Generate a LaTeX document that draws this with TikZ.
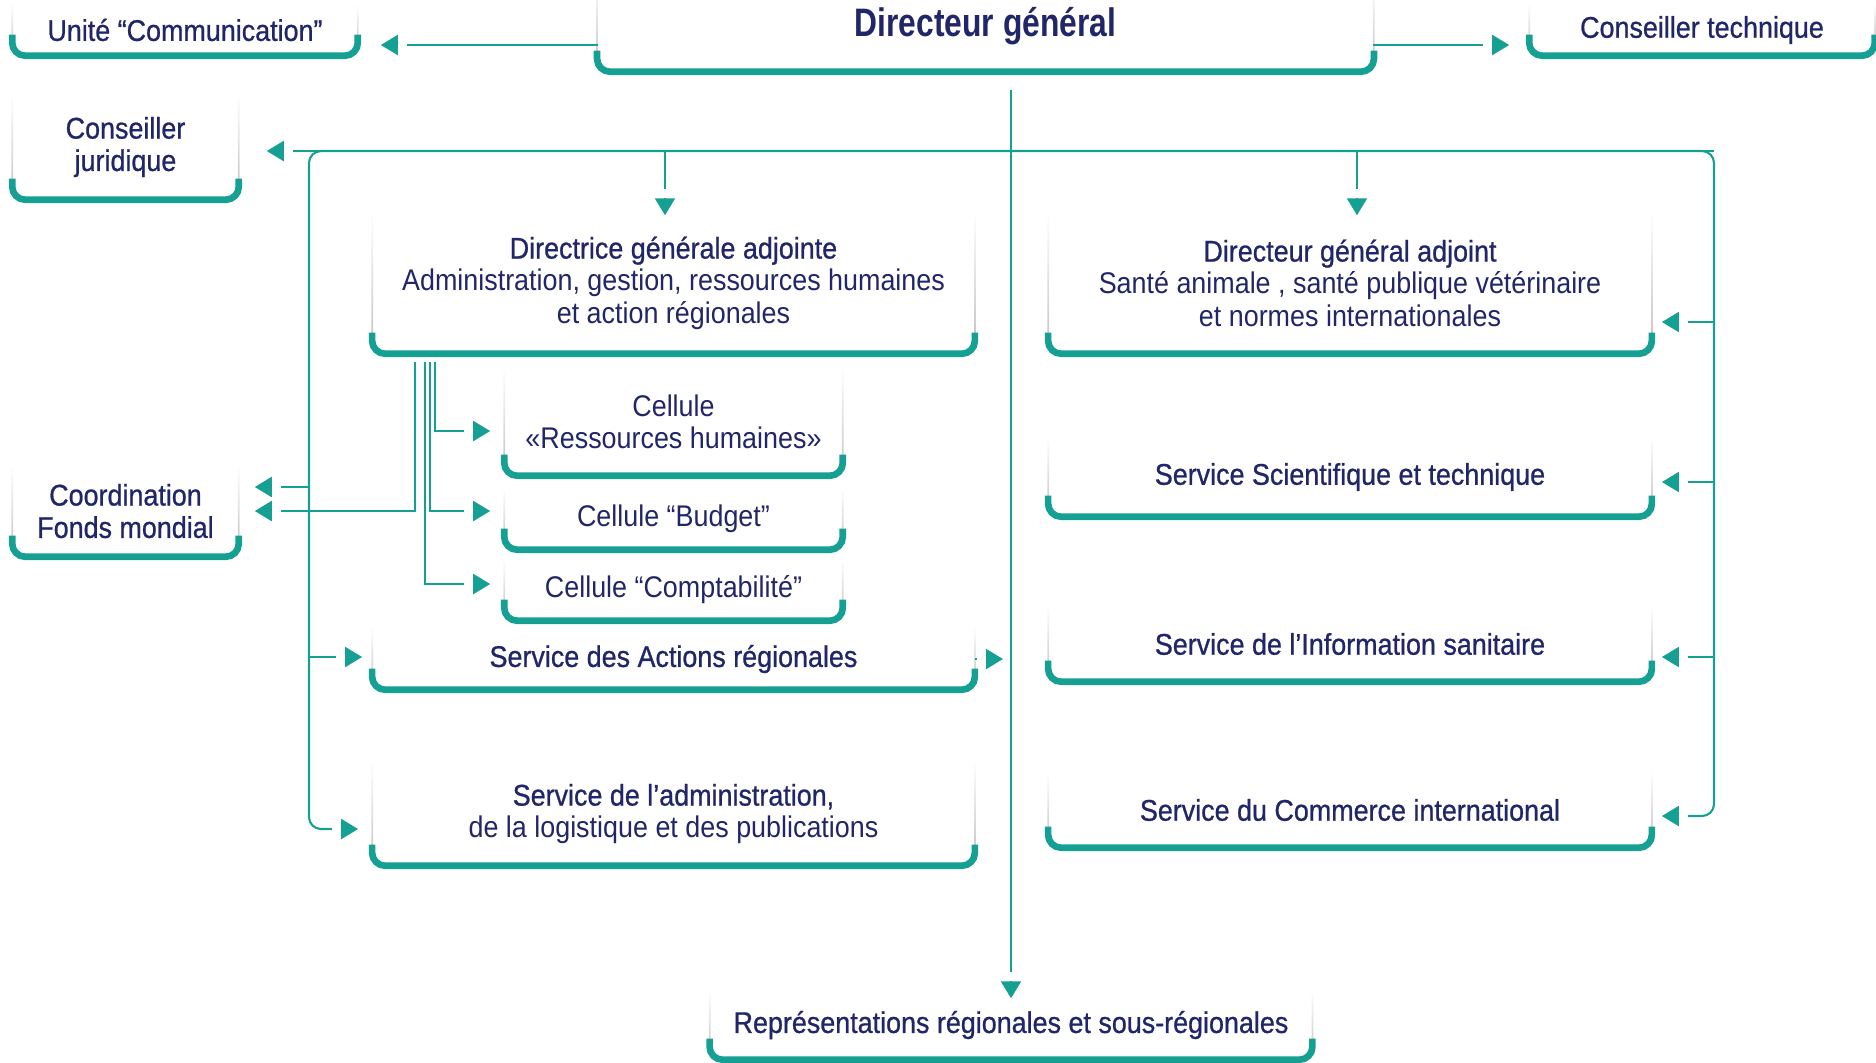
\documentclass[tikz,border=0pt]{standalone}
\usepackage{fontspec}
\setmainfont{Liberation Sans}[FakeStretch=0.9]
\newfontfamily\titlefont{Liberation Sans}[FakeStretch=0.9, FakeBold=0.8]
\newfontfamily\dgfont{Liberation Sans}[FakeStretch=0.8]
\usepackage{tikz}
\usetikzlibrary{positioning,arrows.meta,fadings}
\definecolor{oieteal}{RGB}{22,160,148}
\definecolor{navy}{RGB}{32,38,104}

\begin{document}
\begin{tikzpicture}[x=0.01cm, y=-0.01cm,
  unit/.style={align=center, text=navy, inner sep=0pt, font=\fontsize{8.5}{9.2}\selectfont},
  boxside/.style={draw=black!25, line width=0.5pt, rounded corners=0.13cm, path fading=north},
  boxbase/.style={draw=oieteal, line width=1.9pt, rounded corners=0.13cm},
  link/.style={draw=oieteal, line width=0.6pt},
  arr/.style={link, -{Rectangle[length=0.09cm, width=0.05cm, color=white] Triangle[length=0.17cm, width=0.2cm]}}
]
\useasboundingbox (0,0) rectangle (1876,1062);

\node[unit, minimum width=3.44cm, minimum height=0.5cm] (comm) at (185,30) {\titlefont Unité “Communication”};
\node[unit, minimum width=7.75cm, minimum height=0.9cm, font=\fontsize{11.3}{13}\dgfont\bfseries] (dg) at (985.5,26) {Directeur général};
\node[unit, minimum width=3.44cm, minimum height=0.5cm] (ct) at (1702,30) {\titlefont Conseiller technique};
\node[unit, minimum width=2.25cm, minimum height=1.04cm] (cj) at (125.5,147) {\titlefont Conseiller\\\titlefont juridique};
\node[unit, minimum width=6.01cm, minimum height=1.4cm] (dgaf) at (673.5,283) {{\titlefont Directrice générale adjointe}\\Administration, gestion, ressources humaines\\et action régionales};
\node[unit, minimum width=6.02cm, minimum height=1.4cm] (dgam) at (1350,283) {{\titlefont Directeur général adjoint}\\Santé animale , santé publique vétérinaire\\et normes internationales};
\node[unit, minimum width=3.37cm, minimum height=1.06cm] (rh) at (673.5,422) {Cellule\\«Ressources humaines»};
\node[unit, minimum width=3.37cm, minimum height=0.6cm] (bud) at (673.5,519) {Cellule “Budget”};
\node[unit, minimum width=3.37cm, minimum height=0.6cm] (cpt) at (673.5,590) {Cellule “Comptabilité”};
\node[unit, minimum width=2.25cm, minimum height=0.9cm] (cfm) at (125.5,511) {\titlefont Coordination\\\titlefont Fonds mondial};
\node[unit, minimum width=6.01cm, minimum height=0.6cm] (sar) at (673.5,659) {\titlefont Service des Actions régionales};
\node[unit, minimum width=6.01cm, minimum height=1.02cm] (sal) at (673.5,814) {{\titlefont Service de l’administration,}\\de la logistique et des publications};
\node[unit, minimum width=6.02cm, minimum height=0.78cm] (sst) at (1350,477) {\titlefont Service Scientifique et technique};
\node[unit, minimum width=6.02cm, minimum height=0.74cm] (sis) at (1350,644) {\titlefont Service de l’Information sanitaire};
\node[unit, minimum width=6.02cm, minimum height=0.74cm] (sci) at (1350,810) {\titlefont Service du Commerce international};
\node[unit, minimum width=6.01cm, minimum height=0.68cm] (rep) at (1011,1025) {\titlefont Représentations régionales et sous-régionales};

\foreach \n in {comm,dg,ct,cj,dgaf,dgam,rh,bud,cpt,cfm,sar,sal,sst,sis,sci,rep}{
  \draw[boxside] (\n.north west) -- (\n.south west) -- (\n.south east) -- (\n.north east);
  \draw[boxbase] ([yshift=6pt]\n.south west) -- (\n.south west) -- (\n.south east) -- ([yshift=6pt]\n.south east);
}

\coordinate (dgl) at (598,45);
\coordinate (dgr) at (1373,45);
\coordinate (dgs) at (1011,90);
\coordinate (bus) at (1011,151);
\coordinate (busr) at (1714,151);
\coordinate (b1) at (665,151);
\coordinate (b2) at (1357,151);
\coordinate (rb) at (1714,816);
\coordinate (lb) at (309,829);
\coordinate (r1) at (1714,322);
\coordinate (r2) at (1714,482);
\coordinate (r3) at (1714,657);
\coordinate (l1) at (309,487);
\coordinate (l2) at (309,657);
\coordinate (d1) at (415,362);
\coordinate (d2) at (425,362);
\coordinate (d3) at (430,362);
\coordinate (d4) at (435,362);

\draw[arr, shorten >=0.23cm] (dgl) -- (comm.east |- dgl);
\draw[arr, shorten >=0.2cm] (dgr) -- (ct.west |- dgr);
\draw[arr, shorten >=-0.08cm] (dgs) -- (rep);
\draw[arr, shorten >=0.28cm] (busr) -- (cj.east |- busr);
\draw[arr, shorten >=-0.03cm] (b1) -- (b1 |- dgaf.north);
\draw[arr, shorten >=-0.03cm] (b2) -- (b2 |- dgam.north);
\draw[arr, rounded corners=0.12cm, shorten >=0.1cm] (bus) -| (rb) -- (sci.east |- rb);
\draw[arr, rounded corners=0.12cm, shorten >=0.14cm] (bus) -| (lb) -- (sal.west |- lb);
\draw[arr, shorten >=0.1cm] (r1) -- (dgam.east |- r1);
\draw[arr, shorten >=0.1cm] (r2) -- (sst.east |- r2);
\draw[arr, shorten >=0.1cm] (r3) -- (sis.east |- r3);
\draw[arr, shorten >=0.16cm] (l1) -- (cfm.east |- l1);
\draw[arr, shorten >=0.1cm] (l2) -- (sar.west |- l2);
\draw[arr, shorten >=0.08cm] (sar.east) -- (sar.east -| dgs);
\draw[arr, shorten >=0.16cm] (d1) |- (cfm.east);
\draw[arr, shorten >=0.14cm] (d2) |- (cpt.west |- 0,584);
\draw[arr, shorten >=0.14cm] (d3) |- (bud.west |- 0,511);
\draw[arr, shorten >=0.14cm] (d4) |- (rh.west |- 0,431);

\end{tikzpicture}
\end{document}
